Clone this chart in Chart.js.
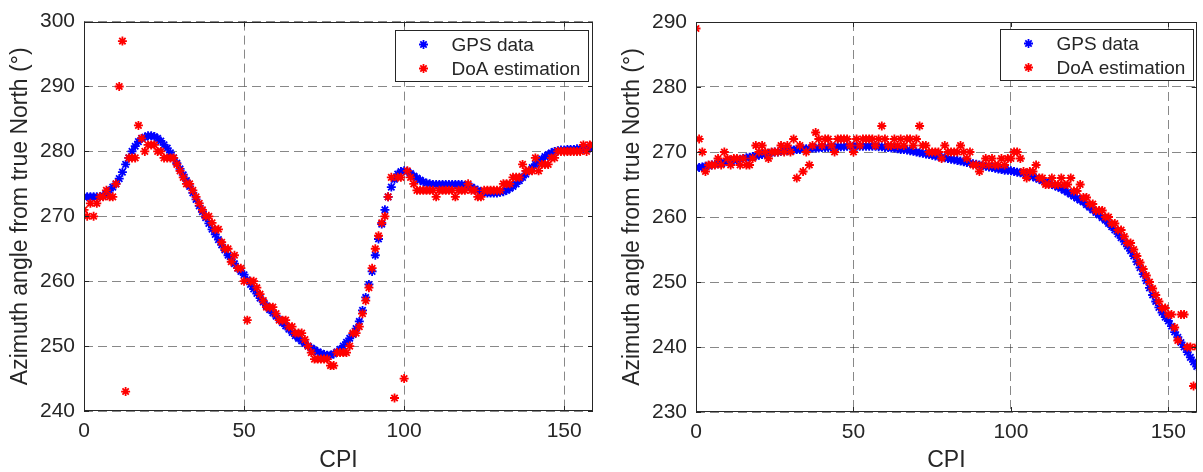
<!DOCTYPE html>
<html>
<head>
<meta charset="utf-8">
<script src="https://cdn.jsdelivr.net/npm/chart.js@4.4.1/dist/chart.umd.min.js"></script>
<style>
	body { margin: 0; background: #fff; }
	.pane { position: absolute; top: 0; }
</style>
</head>
<body>
<div class="pane" style="left:0"><canvas id="left" width="600" height="472"></canvas></div>
<div class="pane" style="left:600px"><canvas id="right" width="603" height="472"></canvas></div>
<script>
var seriesNames = [ "GPS data", "DoA estimation" ];
var xTicks = [ 0, 50, 100, 150 ];
var leftYTicks = [ 240, 250, 260, 270, 280, 290, 300 ];
var rightYTicks = [ 230, 240, 250, 260, 270, 280, 290 ];

var leftGps = [
	273, 273, 273, 273, 273, 273, 273.2, 273.5, 274, 274.5,
	275, 275.8, 276.8, 278, 279, 280, 280.8, 281.5, 282, 282.2,
	282.4, 282.4, 282.3, 282, 281.6, 281, 280.5, 279.8, 279, 278.2,
	277.3, 276.4, 275.5, 274.6, 273.6, 272.6, 271.6, 270.7, 269.8, 268.9,
	268, 267.2, 266.4, 265.6, 264.8, 264, 263.4, 262.7, 262, 261.5,
	261, 260.2, 259.5, 258.8, 258.1, 257.4, 256.8, 256.2, 255.6, 255.1,
	254.6, 254.1, 253.6, 253.1, 252.6, 252.1, 251.6, 251.2, 250.8, 250.4,
	250, 249.7, 249.4, 249.1, 248.9, 248.7, 248.6, 248.6, 248.8, 249.1,
	249.5, 250, 250.6, 251.2, 251.8, 252.7, 253.8, 255.5, 257.5, 259.5,
	261.5, 264, 266.5, 268.8, 271, 273, 274.5, 275.7, 276.5, 276.9,
	277, 276.9, 276.6, 276.2, 275.9, 275.6, 275.3, 275.1, 275, 274.9,
	274.9, 274.9, 274.9, 274.9, 274.9, 274.9, 274.9, 274.9, 274.9, 274.8,
	274.7, 274.5, 274.2, 274, 273.8, 273.7, 273.6, 273.6, 273.6, 273.6,
	273.7, 273.8, 274, 274.3, 274.6, 275, 275.5, 276, 276.5, 277,
	277.5, 278, 278.4, 278.8, 279.2, 279.5, 279.8, 280, 280.1, 280.2,
	280.2, 280.3, 280.3, 280.3, 280.4, 280.4, 280.4, 280.5, 280.5, 280.5 ];

var leftDoa = [
	271, 270, 272, 270, 272, 273, 273, 274, 273, 273,
	275, 290, 297, 243, 279, 279, 279, 284, 282, 280,
	281, 281, 281, 280, 280, 279, 279, 279, 279, 278,
	277, 276, 275, 275, 274, 273, 272, 271, 270, 270,
	269, 268, 268, 266, 265, 265, 263, 264, 262, 262,
	260, 254, 260, 260, 259, 258, 257, 256, 256, 256,
	255, 254, 254, 254, 253, 253, 252, 252, 252, 251,
	250, 249, 248, 248, 248, 248, 248, 247, 247, 249,
	249, 249, 249, 250, 252, 252, 253, 255, 257, 259,
	262, 265, 267, 269, 270, 273, 276, 242, 276, 276,
	245, 277, 276, 275, 274, 274, 274, 274, 274, 274,
	273, 274, 274, 274, 274, 274, 273, 274, 274, 274,
	275, 274, 274, 273, 273, 274, 274, 274, 274, 274,
	274, 275, 275, 275, 276, 276, 276, 278, 277, 277,
	277, 279, 277, 278, 278, 278, 279, 279, 280, 280,
	280, 280, 280, 280, 280, 280, 281, 280, 281, 281 ];

var rightGps = [
	267.6, 267.6, 267.7, 267.8, 267.9, 268, 268.1, 268.2, 268.3, 268.4,
	268.5, 268.6, 268.7, 268.8, 268.9, 269, 269.1, 269.2, 269.3, 269.4,
	269.5, 269.6, 269.7, 269.8, 269.9, 270, 270, 270.1, 270.2, 270.2,
	270.3, 270.3, 270.4, 270.4, 270.5, 270.5, 270.5, 270.6, 270.6, 270.6,
	270.7, 270.7, 270.7, 270.8, 270.8, 270.8, 270.8, 270.8, 270.9, 270.9,
	270.9, 270.9, 270.9, 270.9, 270.9, 270.9, 270.9, 270.9, 270.8, 270.8,
	270.7, 270.7, 270.6, 270.6, 270.5, 270.4, 270.4, 270.3, 270.2, 270.1,
	270, 269.9, 269.8, 269.7, 269.6, 269.5, 269.4, 269.3, 269.2, 269.1,
	269, 268.9, 268.8, 268.7, 268.6, 268.5, 268.4, 268.3, 268.2, 268.1,
	268, 267.9, 267.8, 267.7, 267.6, 267.5, 267.4, 267.3, 267.2, 267.2,
	267.1, 267, 266.9, 266.8, 266.7, 266.6, 266.4, 266.2, 266, 265.8,
	265.6, 265.4, 265.2, 265, 264.8, 264.6, 264.4, 264.1, 263.8, 263.5,
	263.2, 262.9, 262.6, 262.3, 261.9, 261.5, 261.1, 260.7, 260.3, 259.9,
	259.5, 259, 258.5, 258, 257.4, 256.8, 256.2, 255.5, 254.8, 254,
	253.1, 252.2, 251.2, 250.2, 249.1, 248, 247, 246.1, 245.3, 244.6,
	244, 243.2, 242.3, 241.5, 240.7, 240, 239.2, 238.4, 237.7, 237 ];

var rightDoa = [
	289, 272, 270, 267, 268, 268, 268, 269, 268, 270,
	269, 268, 269, 269, 268, 269, 268, 268, 269, 271,
	270, 271, 270, 269, 270, 270, 270, 271, 270, 271,
	270, 272, 266, 271, 267, 270, 268, 271, 273, 272,
	271, 272, 272, 271, 270, 272, 272, 272, 272, 271,
	270, 272, 271, 272, 272, 272, 272, 271, 272, 274,
	272, 271, 271, 272, 271, 272, 271, 272, 272, 271,
	272, 274, 271, 271, 270, 270, 270, 270, 269, 271,
	270, 270, 270, 270, 271, 270, 269, 270, 268, 268,
	267, 268, 269, 268, 269, 268, 268, 269, 268, 269,
	269, 270, 270, 269, 267, 266, 267, 267, 268, 266,
	266, 265, 265, 266, 265, 265, 266, 265, 265, 266,
	264, 264, 265, 263, 263, 262, 262, 261, 261, 261,
	260, 260, 259, 259, 258, 258, 257, 256, 256, 255,
	254, 253, 252, 251, 250, 249, 248, 247, 246, 246,
	245, 245, 243, 241, 245, 245, 240, 240, 234, 240 ];

var ink = '#262626';
var fontFamily = 'Liberation Sans, Arial, Helvetica, sans-serif';

function toPoints(vals) {
	return vals.map(function(v, i) {
		return { x : i, y : v };
	});
}

var frame = {
	id : 'frame',
	afterDraw : function(chart, args, opts) {
		var ctx = chart.ctx;
		var a = chart.chartArea;
		var xs = chart.scales.x;
		var ys = chart.scales.y;
		ctx.save();
		ctx.strokeStyle = ink;
		ctx.lineWidth = 1;
		ctx.beginPath();
		xs.ticks.forEach(function(t) {
			var px = Math.round(xs.getPixelForValue(t.value)) + 0.5;
			ctx.moveTo(px, a.bottom);
			ctx.lineTo(px, a.bottom - 5);
			ctx.moveTo(px, a.top);
			ctx.lineTo(px, a.top + 5);
		});
		ys.ticks.forEach(function(t) {
			var py = Math.round(ys.getPixelForValue(t.value)) + 0.5;
			ctx.moveTo(a.left, py);
			ctx.lineTo(a.left + 5, py);
			ctx.moveTo(a.right, py);
			ctx.lineTo(a.right - 5, py);
		});
		ctx.stroke();
		ctx.strokeRect(Math.round(a.left) + 0.5, Math.round(a.top) + 0.5,
				Math.round(a.width) - 1, Math.round(a.height) - 1);

		// legend box
		var w = 193, h = 51;
		var bx = Math.round(a.right - opts.right - w) + 0.5;
		var by = Math.round(a.top + opts.top) + 0.5;
		ctx.fillStyle = '#fff';
		ctx.fillRect(bx, by, w, h);
		ctx.strokeRect(bx, by, w, h);
		ctx.font = '19px ' + fontFamily;
		ctx.textBaseline = 'middle';
		chart.data.datasets.forEach(function(ds, i) {
			var ry = by + 14 + i * 24;
			ctx.strokeStyle = ds.borderColor;
			ctx.lineWidth = 1.8;
			Chart.helpers.drawPoint(ctx, {
				pointStyle : 'star',
				radius : 4.5,
				rotation : 0,
				borderWidth : 1.8
			}, bx + 28, ry);
			ctx.fillStyle = ink;
			ctx.fillText(ds.label, bx + 56, ry + 1);
		});
		ctx.restore();
	}
};

function makeChart(id, gps, doa, yTicks, box) {
	var ctx = document.getElementById(id).getContext('2d');
	return new Chart(ctx, {
		type : 'scatter',
		data : {
			datasets : [ {
				label : seriesNames[0],
				data : toPoints(gps),
				borderColor : '#0000ff',
				backgroundColor : '#0000ff',
				order : 2
			}, {
				label : seriesNames[1],
				data : toPoints(doa),
				borderColor : '#ff0000',
				backgroundColor : '#ff0000',
				order : 1
			} ]
		},
		options : {
			responsive : false,
			animation : false,
			devicePixelRatio : 1,
			elements : {
				point : {
					pointStyle : 'star',
					radius : 4.5,
					borderWidth : 1.8
				}
			},
			layout : {
				padding : {
					top : box.top,
					right : box.right,
					left : 0,
					bottom : 0
				}
			},
			plugins : {
				legend : { display : false },
				tooltip : { enabled : false },
				frame : { right : box.legendRight, top : box.legendTop }
			},
			scales : {
				x : {
					type : 'linear',
					min : 0,
					max : 159,
					afterBuildTicks : function(s) {
						s.ticks = xTicks.map(function(v) { return { value : v }; });
					},
					afterFit : function(s) { s.height = box.xHeight; },
					grid : {
						color : 'rgba(38,38,38,0.55)',
						drawTicks : false
					},
					border : { display : false, dash : [ 9, 5 ] },
					ticks : {
						color : ink,
						padding : 8,
						font : { family : fontFamily, size : 21 }
					},
					title : {
						display : true,
						text : 'CPI',
						color : ink,
						padding : 0,
						font : { family : fontFamily, size : 23, lineHeight : 1 }
					}
				},
				y : {
					type : 'linear',
					min : yTicks[0],
					max : yTicks[yTicks.length - 1],
					afterBuildTicks : function(s) {
						s.ticks = yTicks.map(function(v) { return { value : v }; });
					},
					afterFit : function(s) { s.width = box.yWidth; },
					grid : {
						color : 'rgba(38,38,38,0.55)',
						drawTicks : false
					},
					border : { display : false, dash : [ 9, 5 ] },
					ticks : {
						color : ink,
						padding : 9,
						font : { family : fontFamily, size : 21 }
					},
					title : {
						display : true,
						text : 'Azimuth angle from true North (°)',
						color : ink,
						padding : { top : box.titlePad, bottom : 0 },
						font : { family : fontFamily, size : 23, lineHeight : 1 }
					}
				}
			}
		},
		plugins : [ frame ]
	});
}

makeChart('left', leftGps, leftDoa, leftYTicks, {
	top : 19, right : 7, xHeight : 61, yWidth : 84, titlePad : 9,
	legendRight : 5, legendTop : 8
});
makeChart('right', rightGps, rightDoa, rightYTicks, {
	top : 22, right : 1, xHeight : 60, yWidth : 96, titlePad : 21,
	legendRight : 4, legendTop : 7
});
</script>
</body>
</html>
